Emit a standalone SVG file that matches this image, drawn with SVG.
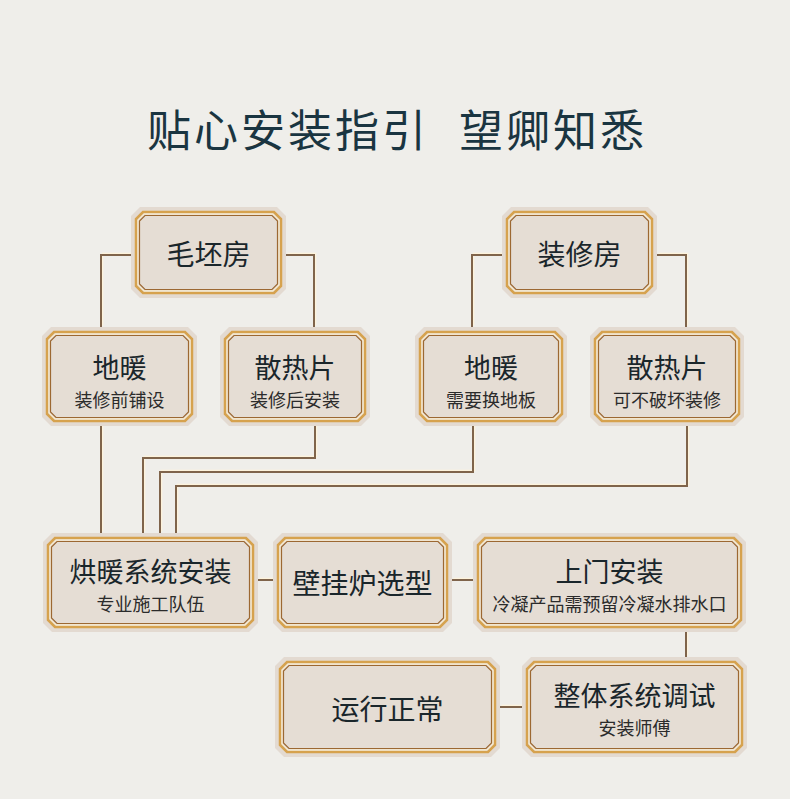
<svg xmlns="http://www.w3.org/2000/svg" width="790" height="799" viewBox="0 0 790 799">
<style>
text{font-family:"Noto Sans CJK SC","Noto Sans",sans-serif;text-anchor:middle;dominant-baseline:central}
.title{font-size:44px;fill:#1a3541;text-anchor:start;letter-spacing:3px}
.t{font-size:27px;fill:#1a262b}
.t1{font-size:28px;fill:#1a262b}
.s{font-size:18px;fill:#2b2b2b}
.p0{fill:#e3dad1}
.p5{fill:#e5ddd4;stroke:#d6a24e;stroke-width:2.5}
.p7{fill:none;stroke:#fbecca;stroke-width:1}
.p8{fill:none;stroke:#9c6832;stroke-width:1.2}
.cl{fill:none;stroke:#fdf3dc;stroke-width:1.5}
.cd{fill:none;stroke:#7f644b;stroke-width:2}
</style>
<rect width="790" height="799" fill="#efeeea"/>
<text class="title" x="147" y="128">贴心安装指引</text>
<text class="title" x="459" y="128">望卿知悉</text>
<g id="connectors">
<g class="cl" transform="translate(1.5,-1.5)">
<path d="M131,255H101V327"/><path d="M286,255H314V327"/><path d="M502,255H472V327"/><path d="M657,255H686V327"/>
<path d="M101,426V533"/><path d="M315,426V458H143V533"/><path d="M473,426V472H160V533"/><path d="M687,426V486H176V533"/>
<path d="M258,580H273"/><path d="M452,580H473"/><path d="M686,632V657"/><path d="M500,707H522"/>
</g>
<g class="cd">
<path d="M131,255H101V327"/><path d="M286,255H314V327"/><path d="M502,255H472V327"/><path d="M657,255H686V327"/>
<path d="M101,426V533"/><path d="M315,426V458H143V533"/><path d="M473,426V472H160V533"/><path d="M687,426V486H176V533"/>
<path d="M258,580H273"/><path d="M452,580H473"/><path d="M686,632V657"/><path d="M500,707H522"/>
</g>
</g>
<g id="n-maopi" transform="translate(131,207)">
<path class="p0" d="M9,0H146L155,9V82L146,91H9L0,82V9Z"/>
<path class="p5" d="M12,5H143L150,12V79L143,86H12L5,79V12Z"/>
<path class="p7" d="M13,7H142L148,13V78L142,84H13L7,78V13Z"/>
<path class="p8" d="M14,8.5H141L146.5,14V77L141,82.5H14L8.5,77V14Z"/>
<text class="t1" x="77.5" y="46">毛坯房</text>
</g>
<g id="n-zhuangxiu" transform="translate(502,207)">
<path class="p0" d="M9,0H146L155,9V82L146,91H9L0,82V9Z"/>
<path class="p5" d="M12,5H143L150,12V79L143,86H12L5,79V12Z"/>
<path class="p7" d="M13,7H142L148,13V78L142,84H13L7,78V13Z"/>
<path class="p8" d="M14,8.5H141L146.5,14V77L141,82.5H14L8.5,77V14Z"/>
<text class="t1" x="77.5" y="46">装修房</text>
</g>
<g id="n-dinuan1" transform="translate(42,327)">
<path class="p0" d="M9,0H146L155,9V90L146,99H9L0,90V9Z"/>
<path class="p5" d="M12,5H143L150,12V87L143,94H12L5,87V12Z"/>
<path class="p7" d="M13,7H142L148,13V86L142,92H13L7,86V13Z"/>
<path class="p8" d="M14,8.5H141L146.5,14V85L141,90.5H14L8.5,85V14Z"/>
<text class="t" x="77.5" y="39">地暖</text>
<text class="s" x="77.5" y="72">装修前铺设</text>
</g>
<g id="n-sanre1" transform="translate(220,327)">
<path class="p0" d="M9,0H141L150,9V90L141,99H9L0,90V9Z"/>
<path class="p5" d="M12,5H138L145,12V87L138,94H12L5,87V12Z"/>
<path class="p7" d="M13,7H137L143,13V86L137,92H13L7,86V13Z"/>
<path class="p8" d="M14,8.5H136L141.5,14V85L136,90.5H14L8.5,85V14Z"/>
<text class="t" x="75" y="39">散热片</text>
<text class="s" x="75" y="72">装修后安装</text>
</g>
<g id="n-dinuan2" transform="translate(415,327)">
<path class="p0" d="M9,0H143L152,9V90L143,99H9L0,90V9Z"/>
<path class="p5" d="M12,5H140L147,12V87L140,94H12L5,87V12Z"/>
<path class="p7" d="M13,7H139L145,13V86L139,92H13L7,86V13Z"/>
<path class="p8" d="M14,8.5H138L143.5,14V85L138,90.5H14L8.5,85V14Z"/>
<text class="t" x="76" y="39">地暖</text>
<text class="s" x="76" y="72">需要换地板</text>
</g>
<g id="n-sanre2" transform="translate(590,327)">
<path class="p0" d="M9,0H145L154,9V90L145,99H9L0,90V9Z"/>
<path class="p5" d="M12,5H142L149,12V87L142,94H12L5,87V12Z"/>
<path class="p7" d="M13,7H141L147,13V86L141,92H13L7,86V13Z"/>
<path class="p8" d="M14,8.5H140L145.5,14V85L140,90.5H14L8.5,85V14Z"/>
<text class="t" x="77" y="39">散热片</text>
<text class="s" x="77" y="72">可不破坏装修</text>
</g>
<g id="n-hongnuan" transform="translate(43,533)">
<path class="p0" d="M9,0H206L215,9V90L206,99H9L0,90V9Z"/>
<path class="p5" d="M12,5H203L210,12V87L203,94H12L5,87V12Z"/>
<path class="p7" d="M13,7H202L208,13V86L202,92H13L7,86V13Z"/>
<path class="p8" d="M14,8.5H201L206.5,14V85L201,90.5H14L8.5,85V14Z"/>
<text class="t" x="107.5" y="37">烘暖系统安装</text>
<text class="s" x="107.5" y="70">专业施工队伍</text>
</g>
<g id="n-bigualu" transform="translate(273,533)">
<path class="p0" d="M9,0H170L179,9V90L170,99H9L0,90V9Z"/>
<path class="p5" d="M12,5H167L174,12V87L167,94H12L5,87V12Z"/>
<path class="p7" d="M13,7H166L172,13V86L166,92H13L7,86V13Z"/>
<path class="p8" d="M14,8.5H165L170.5,14V85L165,90.5H14L8.5,85V14Z"/>
<text class="t1" x="89.5" y="49">壁挂炉选型</text>
</g>
<g id="n-shangmen" transform="translate(473,533)">
<path class="p0" d="M9,0H264L273,9V90L264,99H9L0,90V9Z"/>
<path class="p5" d="M12,5H261L268,12V87L261,94H12L5,87V12Z"/>
<path class="p7" d="M13,7H260L266,13V86L260,92H13L7,86V13Z"/>
<path class="p8" d="M14,8.5H259L264.5,14V85L259,90.5H14L8.5,85V14Z"/>
<text class="t" x="136.5" y="37">上门安装</text>
<text class="s" x="136.5" y="70">冷凝产品需预留冷凝水排水口</text>
</g>
<g id="n-yunxing" transform="translate(275,657)">
<path class="p0" d="M9,0H216L225,9V91L216,100H9L0,91V9Z"/>
<path class="p5" d="M12,5H213L220,12V88L213,95H12L5,88V12Z"/>
<path class="p7" d="M13,7H212L218,13V87L212,93H13L7,87V13Z"/>
<path class="p8" d="M14,8.5H211L216.5,14V86L211,91.5H14L8.5,86V14Z"/>
<text class="t1" x="112.5" y="51">运行正常</text>
</g>
<g id="n-tiaoshi" transform="translate(522,657)">
<path class="p0" d="M9,0H216L225,9V91L216,100H9L0,91V9Z"/>
<path class="p5" d="M12,5H213L220,12V88L213,95H12L5,88V12Z"/>
<path class="p7" d="M13,7H212L218,13V87L212,93H13L7,87V13Z"/>
<path class="p8" d="M14,8.5H211L216.5,14V86L211,91.5H14L8.5,86V14Z"/>
<text class="t" x="112.5" y="37">整体系统调试</text>
<text class="s" x="112.5" y="70">安装师傅</text>
</g>
</svg>
